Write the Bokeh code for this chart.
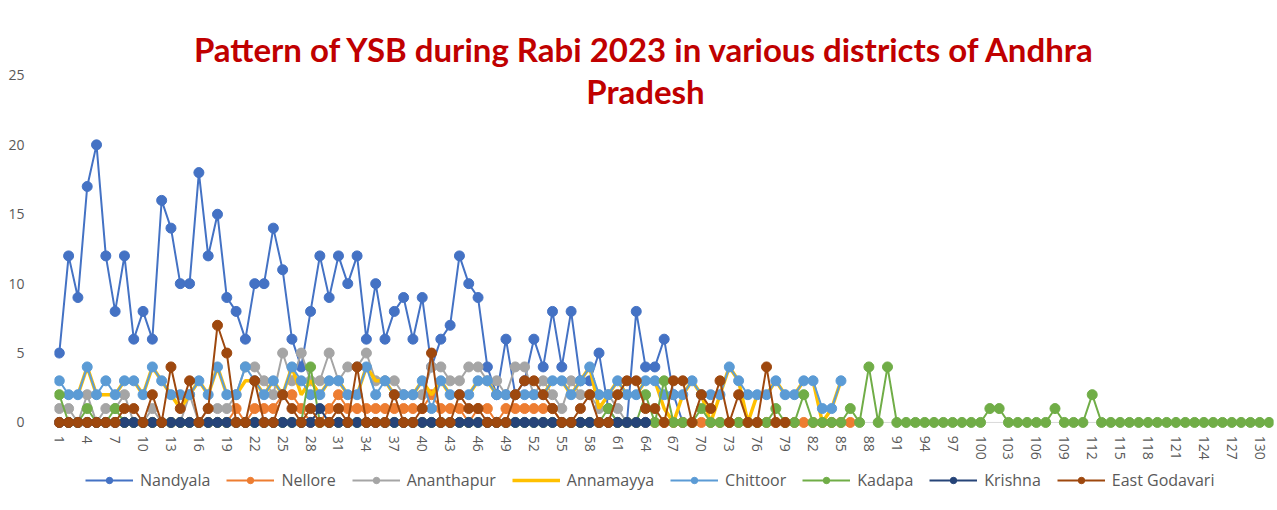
from bokeh.plotting import figure
from bokeh.models import Range1d, FixedTicker, Span, Label, Legend, LegendItem
from bokeh.embed import file_html
from bokeh.resources import INLINE

# ---------------- data ----------------
categories = list(range(1, 132))
x_tick_labels = [1, 4, 7, 10, 13, 16, 19, 22, 25, 28, 31, 34, 37, 40, 43, 46, 49, 52, 55, 58,
                 61, 64, 67, 70, 73, 76, 79, 82, 85, 88, 91, 94, 97, 100, 103, 106, 109, 112,
                 115, 118, 121, 124, 127, 130]
y_tick_labels = [0, 5, 10, 15, 20, 25]

nandyala = [5, 12, 9, 17, 20, 12, 8, 12, 6, 8,
            6, 16, 14, 10, 10, 18, 12, 15, 9, 8,
            6, 10, 10, 14, 11, 6, 4, 8, 12, 9,
            12, 10, 12, 6, 10, 6, 8, 9, 6, 9,
            4, 6, 7, 12, 10, 9, 4, 2, 6, 2,
            3, 6, 4, 8, 4, 8, 3, 3, 5, 1,
            0, 0, 8, 4, 4, 6, 2, 0]

nellore = [0, 0, 0, 0, 0, 0, 0, 0, 0, 0,
           0, 0, 0, 0, 0, 0, 0, 0, 0, 1,
           0, 1, 1, 1, 2, 2, 1, 0, 0, 1,
           2, 1, 1, 1, 1, 1, 1, 1, 1, 1,
           2, 1, 1, 1, 0, 1, 1, 0, 1, 1,
           1, 1, 1, 1, 0, 0, 0, 0, 0, 0,
           0, 0, 0, 0, 0, 0, 0, 0, 0, 0,
           0, 0, 0, 0, 0, 0, 0, 0, 0, 0,
           0, 0, 0, 0, 0, 0]

ananthapur = [1, 1, 0, 2, 0, 1, 1, 2, 0, 0,
              1, 0, 0, 0, 2, 0, 1, 1, 1, 2,
              4, 4, 3, 2, 5, 3, 5, 3, 3, 5,
              3, 4, 4, 5, 3, 3, 3, 2, 2, 2,
              4, 4, 3, 3, 4, 4, 3, 3, 2, 4,
              4, 2, 3, 2, 1, 3, 2, 2, 1, 2,
              1, 0, 0, 0]

annamayya = [2, 2, 2, 4, 2, 2, 2, 3, 3, 2,
             4, 3, 2, 1, 2, 3, 2, 4, 2, 2,
             3, 3, 2, 3, 2, 4, 2, 3, 2, 3,
             3, 2, 2, 4, 3, 3, 2, 2, 2, 3,
             2, 3, 2, 2, 2, 3, 3, 2, 2, 2,
             2, 2, 2, 3, 3, 2, 3, 4, 1, 2,
             3, 2, 2, 3, 3, 1, 0, 2, 3, 2,
             0, 2, 4, 3, 0, 2, 2, 3, 2, 2,
             3, 3, 0, 1, 3]

chittoor = [3, 2, 2, 4, 2, 3, 2, 3, 3, 2,
            4, 3, 2, 2, 2, 3, 2, 4, 2, 2,
            4, 3, 2, 3, 2, 4, 3, 2, 2, 3,
            3, 2, 2, 4, 2, 3, 2, 2, 2, 3,
            1, 3, 2, 2, 2, 3, 3, 2, 2, 2,
            2, 2, 2, 3, 3, 2, 3, 4, 2, 2,
            3, 2, 2, 3, 3, 2, 2, 2, 3, 2,
            2, 2, 4, 3, 2, 2, 2, 3, 2, 2,
            3, 3, 1, 1, 3]

kadapa = [2, 0, 0, 1, 0, 0, 1, 0, 0, 0,
          0, 0, 0, 0, 0, 0, 0, 0, 0, 0,
          0, 0, 0, 0, 0, 0, 0, 4, 0, 0,
          0, 0, 0, 0, 0, 0, 0, 0, 0, 0,
          0, 0, 0, 0, 0, 0, 0, 0, 0, 0,
          0, 0, 0, 0, 0, 0, 0, 0, 0, 1,
          0, 0, 0, 2, 0, 3, 0, 0, 0, 1,
          0, 0, 0, 0, 0, 0, 0, 1, 0, 0,
          2, 0, 0, 0, 0, 1, 0, 4, 0, 4,
          0, 0, 0, 0, 0, 0, 0, 0, 0, 0,
          1, 1, 0, 0, 0, 0, 0, 1, 0, 0,
          0, 2, 0, 0, 0, 0, 0, 0, 0, 0,
          0, 0, 0, 0, 0, 0, 0, 0, 0, 0,
          0]

krishna = [0, 0, 0, 0, 0, 0, 0, 0, 0, 0,
           0, 0, 0, 0, 0, 0, 0, 0, 0, 0,
           0, 0, 0, 0, 0, 0, 0, 0, 1, 0,
           0, 0, 0, 0, 0, 0, 0, 0, 0, 0,
           0, 0, 0, 0, 0, 0, 0, 0, 0, 0,
           0, 0, 0, 0, 0, 0, 0, 0, 0, 0,
           0, 0, 0, 0]

east_godavari = [0, 0, 0, 0, 0, 0, 0, 1, 1, 0,
                 2, 0, 4, 1, 3, 0, 1, 7, 5, 0,
                 0, 3, 0, 0, 2, 1, 0, 1, 0, 0,
                 1, 0, 4, 0, 0, 0, 2, 0, 0, 1,
                 5, 0, 0, 2, 1, 1, 0, 0, 0, 2,
                 3, 3, 2, 1, 0, 0, 1, 2, 0, 0,
                 2, 3, 3, 1, 1, 0, 3, 3, 0, 2,
                 1, 3, 0, 2, 0, 0, 4, 0, 0]

series_names = ["Nandyala", "Nellore", "Ananthapur", "Annamayya", "Chittoor",
                "Kadapa", "Krishna", "East Godavari"]
series_values = [nandyala, nellore, ananthapur, annamayya, chittoor,
                 kadapa, krishna, east_godavari]
series_colors = ["#4472C4", "#ED7D31", "#A5A5A5", "#FFC000", "#5B9BD5",
                 "#70AD47", "#264478", "#9E480E"]

title_line1 = "Pattern of YSB during Rabi 2023 in various districts of Andhra"
title_line2 = "Pradesh"

# ---------------- figure ----------------
# frame: x 54..1273, y 20..505 (value 0 at y=422, 25 at y=75)
p = figure(width=1275, height=508, output_backend="svg", toolbar_location=None,
           x_range=Range1d(0.484, 131.48), y_range=Range1d(-5.84, 28.96),
           min_border_left=54, min_border_right=2, min_border_top=20,
           min_border_bottom=5)
p.outline_line_color = None
p.grid.visible = False
p.background_fill_color = "white"
p.border_fill_color = "white"

# axes
p.xaxis.ticker = FixedTicker(ticks=x_tick_labels)
p.yaxis.ticker = FixedTicker(ticks=y_tick_labels)
for ax in (p.xaxis[0], p.yaxis[0]):
    ax.axis_line_color = None
    ax.major_tick_line_color = None
    ax.minor_tick_line_color = None
    ax.major_label_text_color = "#595959"
    ax.major_label_text_font = "Open Sans"
    ax.major_label_text_font_size = "14px"
p.xaxis.major_label_orientation = "vertical"
p.xaxis.major_label_standoff = 1
p.xaxis.fixed_location = -0.45
p.yaxis.major_label_standoff = 24

p.add_layout(Span(location=0, dimension="width", line_color="#D9D9D9",
                  line_width=1, level="underlay"))

items = []
for name, vals, col in zip(series_names, series_values, series_colors):
    xs = categories[:len(vals)]
    if name == "Annamayya":
        ln = p.line(xs, vals, line_color=col, line_width=3.5)
        items.append(LegendItem(label=name, renderers=[ln]))
    else:
        ln = p.line(xs, vals, line_color=col, line_width=2)
        sc = p.scatter(xs, vals, size=10, fill_color=col, line_color=col)
        items.append(LegendItem(label=name, renderers=[ln, sc]))

legend = Legend(items=items, orientation="horizontal", location=(31, 12),
                label_text_font="Open Sans", label_text_font_size="16px",
                label_text_color="#595959", glyph_width=48, glyph_height=16,
                label_height=16, label_standoff=7, spacing=16, padding=4,
                margin=0, border_line_color=None, background_fill_alpha=0)
p.add_layout(legend, "center")

# title (two lines), screen units relative to the plot frame
for txt, yy in ((title_line1, 455), (title_line2, 413)):
    p.add_layout(Label(x=591, y=yy, x_units="screen", y_units="screen", text=txt,
                       text_align="center", text_baseline="middle",
                       text_font="Lato", text_font_style="bold",
                       text_font_size="33px", text_color="#C00000"))

open("out.html", "w").write(file_html(p, INLINE))
